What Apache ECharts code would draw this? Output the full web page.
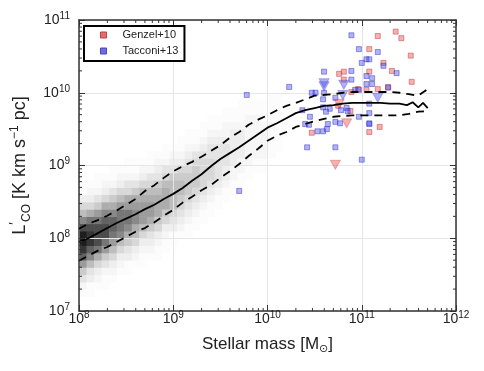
<!DOCTYPE html>
<html>
<head>
<meta charset="utf-8">
<script src="https://cdn.jsdelivr.net/npm/echarts@6/dist/echarts.min.js"></script>
<style>
  html, body { margin: 0; padding: 0; background: #fff; }
  #chart { width: 484px; height: 371px; }
</style>
</head>
<body>
<div id="chart"></div>
<script>
  const FONT = "'Liberation Sans', Arial, sans-serif"
  const INK = '#222'
  const dex = v => Math.pow(10, v)

  // all values below are log10 (M* in Msun, L'CO in K km/s pc^2)
  const massGrid = [8.0, 8.1, 8.2, 8.3, 8.4, 8.5, 8.6, 8.7, 8.8, 8.9, 9.0, 9.1, 9.2, 9.3, 9.4, 9.5, 9.6, 9.7, 9.8, 9.9,
    10.0, 10.1, 10.2, 10.3, 10.4, 10.5, 10.6, 10.7, 10.8, 10.9, 11.0, 11.1, 11.2, 11.3, 11.4, 11.5, 11.6, 11.72]
  const upperL = [8.13, 8.20, 8.25, 8.31, 8.38, 8.46, 8.54, 8.65, 8.73, 8.83, 8.92, 8.99, 9.05, 9.12, 9.20, 9.28, 9.38, 9.46, 9.56, 9.63,
    9.69, 9.76, 9.82, 9.86, 9.91, 9.96, 9.97, 9.98, 10.00, 10.01, 10.01, 10.01, 10.01, 10.01, 10.00, 9.98, 9.96, 10.07]
  const lowerL = [7.69, 7.76, 7.83, 7.88, 7.95, 8.02, 8.09, 8.14, 8.22, 8.31, 8.39, 8.49, 8.57, 8.66, 8.73, 8.83, 8.92, 9.02, 9.13, 9.23,
    9.34, 9.41, 9.46, 9.53, 9.57, 9.61, 9.64, 9.67, 9.68, 9.69, 9.69, 9.69, 9.69, 9.69, 9.69, 9.71, 9.74, 9.75]
  const medianMass = [8.0, 8.1, 8.2, 8.3, 8.4, 8.5, 8.6, 8.7, 8.8, 8.9, 9.0, 9.1, 9.2, 9.3, 9.4, 9.5, 9.6, 9.7, 9.8, 9.9,
    10.0, 10.1, 10.2, 10.3, 10.4, 10.5, 10.6, 10.7, 10.8, 10.9, 11.0, 11.1, 11.2, 11.3, 11.4, 11.48, 11.54, 11.6, 11.65, 11.70]
  const medianL = [7.95, 8.00, 8.07, 8.14, 8.21, 8.27, 8.33, 8.40, 8.46, 8.54, 8.61, 8.69, 8.79, 8.88, 8.99, 9.09, 9.17, 9.25, 9.34, 9.43,
    9.52, 9.58, 9.65, 9.72, 9.76, 9.79, 9.82, 9.83, 9.85, 9.86, 9.86, 9.86, 9.86, 9.85, 9.85, 9.83, 9.87, 9.80, 9.86, 9.79]

  const genzel = [
    [11.17, 10.78], [11.36, 10.84], [11.42, 10.75], [11.08, 10.60], [11.52, 10.51], [11.23, 10.41],
    [10.76, 10.26], [10.81, 10.29], [10.81, 10.18], [11.08, 10.29], [11.32, 10.30], [11.53, 10.15],
    [10.89, 10.01], [11.05, 10.04], [11.28, 10.08], [10.96, 10.05], [11.17, 10.05],
    [10.47, 9.45], [11.19, 9.53], [11.08, 9.46], [10.88, 9.75], [10.75, 9.82]
  ]
  const genzelLimits = [[10.76, 9.85], [10.84, 9.58], [10.72, 9.01]]
  const tacconi = [
    [10.89, 10.79], [10.97, 10.60], [11.17, 10.56], [11.00, 10.41], [11.05, 10.46], [11.08, 10.46], [11.23, 10.37],
    [10.60, 10.29], [10.89, 10.30], [11.37, 10.27], [11.05, 10.23], [11.11, 10.20], [10.89, 10.18], [11.05, 10.12],
    [11.11, 10.12], [10.23, 10.08], [10.47, 10.00], [10.51, 10.00], [10.93, 10.04], [10.97, 10.04], [11.28, 10.07],
    [10.60, 10.00], [10.59, 9.91], [10.72, 9.93], [10.84, 9.79], [10.85, 9.75], [11.08, 9.85], [10.59, 9.80],
    [10.66, 9.78], [10.78, 9.76], [10.37, 9.76], [10.62, 9.74], [11.08, 9.72], [10.97, 9.67], [10.45, 9.67],
    [10.64, 9.57], [10.40, 9.57], [10.44, 9.56], [10.53, 9.47], [10.59, 9.47], [10.63, 9.50], [10.72, 9.60],
    [10.77, 9.58], [11.08, 9.57], [11.08, 9.58], [10.42, 9.25], [10.72, 9.25], [11.00, 9.08], [9.78, 9.97], [9.70, 8.65]
  ]
  const tacconiLimits = [[10.60, 10.13], [10.60, 10.09], [10.81, 10.11], [10.80, 9.97], [11.17, 9.93]]

  // 2d histogram of the model galaxies: one column per mass bin,
  // [first L bin, grey level per L bin (hex, 0 = empty)]
  const xBin = 0.08, yBin = 0.1, xStart = 8.0, yStart = 7.0
  const heatCols = [
    [2, '12469ceffda75311'], [2, '11347aceedb85321'], [3, '12358bdddb964211'], [3, '112469bddca85321'],
    [4, '123579bcca864211'], [5, '12357abbb975321'], [5, '113468abb9854211'], [6, '123578aa9864211'],
    [6, '112357999875321'], [7, '123468998754211'], [7, '112356888764321'], [8, '112356888754211'],
    [9, '11345777764321'], [10, '12345677653211'], [10, '112345666543211'], [11, '11234566654211'],
    [12, '11234555543211'], [13, '11234555443211'], [14, '1123444443211'], [15, '1123344432211'],
    [16, '112233333211'], [17, '112233332111'], [18, '11222222211'], [19, '1122222211'],
    [19, '1122222111'], [21, '111121111'], [22, '11111111'], [24, '11111']
  ]
  const greys = ['#ffffff', '#fcfcfc', '#f6f6f6', '#eeeeee', '#e4e4e4', '#d8d8d8', '#cbcbcb', '#bdbdbd',
    '#adadad', '#9c9c9c', '#898989', '#767676', '#626262', '#4c4c4c', '#353535', '#1e1e1e']

  const heatData = []
  heatCols.forEach((col, c) => {
    col[1].split('').forEach((ch, k) => {
      const level = parseInt(ch, 16)
      if (level > 0) heatData.push([dex(xStart + c * xBin), dex(yStart + (col[0] + k) * yBin), level])
    })
  })

  const toPts = (ms, ls) => ms.map((m, i) => [dex(m), dex(ls[i])])
  const toVals = arr => arr.map(p => [dex(p[0]), dex(p[1])])

  // log minor ticks
  const minorTicks = []
  for (let d = 8; d < 12; d++) for (let k = 2; k <= 9; k++) minorTicks.push([k * dex(d), 1e7, 0])
  for (let d = 7; d < 11; d++) for (let k = 2; k <= 9; k++) minorTicks.push([1e8, k * dex(d), 1])

  const powLabel = v => '10{s|' + Math.round(Math.log10(v)) + '}'
  const labelStyle = {
    color: INK, fontFamily: FONT, fontSize: 14, lineHeight: 18,
    rich: { s: { color: INK, fontFamily: FONT, fontSize: 10, lineHeight: 10, verticalAlign: 'top' } }
  }
  const frame = { show: true, onZero: false, lineStyle: { color: '#333', width: 1.5 } }
  const tick = { show: true, inside: true, length: 6, lineStyle: { color: '#333', width: 1 } }
  const grid = { show: true, lineStyle: { color: '#e6e6e6', width: 1 } }

  const options = {
    animation: false,
    grid: { left: 79, right: 28, top: 20, bottom: 60, containLabel: false, outerBoundsMode: 'none' },
    visualMap: {
      show: false, type: 'continuous', seriesIndex: 0, dimension: 2, min: 0, max: 15,
      inRange: { color: greys }
    },
    legend: {
      orient: 'vertical', left: 84, top: 26, padding: [3, 6, 4, 16], itemGap: 4,
      itemWidth: 6, itemHeight: 6, selectedMode: false,
      borderColor: '#000', borderWidth: 2, backgroundColor: '#fff',
      textStyle: { fontFamily: FONT, fontSize: 11, color: INK, lineHeight: 12, padding: [0, 0, 0, 11] },
      data: [
        { name: 'Genzel+10', icon: 'rect', itemStyle: { color: '#e46c6c', borderColor: '#b04848', borderWidth: 1 } },
        { name: 'Tacconi+13', icon: 'rect', itemStyle: { color: '#6c6ce4', borderColor: '#4848b0', borderWidth: 1 } }
      ]
    },
    xAxis: [
      {
        type: 'log', logBase: 10, min: 1e8, max: 1e12, position: 'bottom', z: 1,
        axisLine: frame, axisTick: tick, splitLine: grid,
        axisLabel: Object.assign({ margin: -1, formatter: powLabel }, labelStyle),
        name: 'Stellar mass [M{sub|⊙}]', nameLocation: 'middle', nameGap: 18,
        nameTextStyle: {
          color: INK, fontFamily: FONT, fontSize: 17, lineHeight: 22,
          rich: { sub: { color: INK, fontFamily: 'DejaVu Sans', fontSize: 11, lineHeight: 11, verticalAlign: 'bottom' } }
        }
      },
      {
        type: 'log', logBase: 10, min: 1e8, max: 1e12, position: 'top', z: 1,
        axisLine: frame, axisTick: tick, splitLine: { show: false }, axisLabel: { show: false }
      }
    ],
    yAxis: [
      {
        type: 'log', logBase: 10, min: 1e7, max: 1e11, position: 'left', z: 1,
        axisLine: frame, axisTick: tick, splitLine: grid,
        axisLabel: Object.assign({ margin: 9, formatter: powLabel }, labelStyle),
        name: 'L{p|′}{sub|CO} [K km s{sup|−1} pc]', nameLocation: 'middle', nameGap: 46, nameRotate: 90,
        nameTextStyle: {
          color: INK, fontFamily: FONT, fontSize: 18, lineHeight: 24,
          rich: {
            p: { color: INK, fontFamily: FONT, fontSize: 14, lineHeight: 14, verticalAlign: 'top' },
            sup: { color: INK, fontFamily: FONT, fontSize: 12, lineHeight: 12, verticalAlign: 'top' },
            sub: { color: INK, fontFamily: FONT, fontSize: 12, lineHeight: 12, verticalAlign: 'bottom' }
          }
        }
      },
      {
        type: 'log', logBase: 10, min: 1e7, max: 1e11, position: 'right', z: 1,
        axisLine: frame, axisTick: tick, splitLine: { show: false }, axisLabel: { show: false }
      }
    ],
    series: [
      {
        type: 'custom', name: 'density', coordinateSystem: 'cartesian2d', z: 0, silent: true,
        encode: { x: 0, y: 1 },
        data: heatData,
        renderItem: (params, api) => {
          const x0 = api.value(0), y0 = api.value(1)
          const a = api.coord([x0, y0])
          const b = api.coord([x0 * dex(xBin), y0 * dex(yBin)])
          return {
            type: 'rect',
            shape: { x: a[0], y: b[1], width: b[0] - a[0] + 0.5, height: a[1] - b[1] + 0.5 },
            style: { fill: api.visual('color') }
          }
        }
      },
      {
        type: 'scatter', name: 'Genzel+10', symbol: 'rect', symbolSize: 5, z: 2,
        data: toVals(genzel),
        itemStyle: { color: 'rgba(230,70,70,0.42)', borderColor: 'rgba(190,40,40,0.45)', borderWidth: 1, opacity: 1 }
      },
      {
        type: 'scatter', name: 'Tacconi+13', symbol: 'rect', symbolSize: 5, z: 2,
        data: toVals(tacconi),
        itemStyle: { color: 'rgba(70,70,230,0.42)', borderColor: 'rgba(40,40,190,0.45)', borderWidth: 1, opacity: 1 }
      },
      {
        type: 'scatter', name: 'Genzel limits', symbol: 'triangle', symbolRotate: 180, symbolSize: [10, 9], z: 2,
        data: toVals(genzelLimits),
        itemStyle: { color: 'rgba(235,80,80,0.45)', borderColor: 'rgba(200,60,60,0.35)', borderWidth: 1, opacity: 1 }
      },
      {
        type: 'scatter', name: 'Tacconi limits', symbol: 'triangle', symbolRotate: 180, symbolSize: [10, 9], z: 2,
        data: toVals(tacconiLimits),
        itemStyle: { color: 'rgba(80,80,235,0.45)', borderColor: 'rgba(60,60,200,0.35)', borderWidth: 1, opacity: 1 }
      },
      {
        type: 'line', name: 'upper', symbol: 'none', z: 3, data: toPts(massGrid, upperL),
        lineStyle: { color: '#000', width: 1.8, type: [8, 6] }
      },
      {
        type: 'line', name: 'lower', symbol: 'none', z: 3, data: toPts(massGrid, lowerL),
        lineStyle: { color: '#000', width: 1.8, type: [8, 6] }
      },
      {
        type: 'line', name: 'median', symbol: 'none', z: 3, data: toPts(medianMass, medianL),
        lineStyle: { color: '#000', width: 1.8 }
      },
      {
        type: 'custom', name: 'minor ticks', coordinateSystem: 'cartesian2d', z: 4, silent: true,
        encode: { x: 0, y: 1 },
        data: minorTicks,
        renderItem: (params, api) => {
          let segs
          if (api.value(2) === 0) {
            const v = api.value(0)
            const bot = api.coord([v, 1e7]), top = api.coord([v, 1e11])
            segs = [[bot[0], bot[1], bot[0], bot[1] - 3], [top[0], top[1], top[0], top[1] + 3]]
          } else {
            const v = api.value(1)
            const l = api.coord([1e8, v]), r = api.coord([1e12, v])
            segs = [[l[0], l[1], l[0] + 3, l[1]], [r[0], r[1], r[0] - 3, r[1]]]
          }
          return {
            type: 'group',
            children: segs.map(s => ({
              type: 'line',
              shape: { x1: s[0], y1: s[1], x2: s[2], y2: s[3] },
              style: { stroke: '#333', lineWidth: 1 }
            }))
          }
        }
      }
    ]
  }

  const chart = echarts.init(document.getElementById('chart'))
  chart.setOption(options)
  window.addEventListener('resize', function () {
    chart && chart.resize()
  })
</script>
</body>
</html>
